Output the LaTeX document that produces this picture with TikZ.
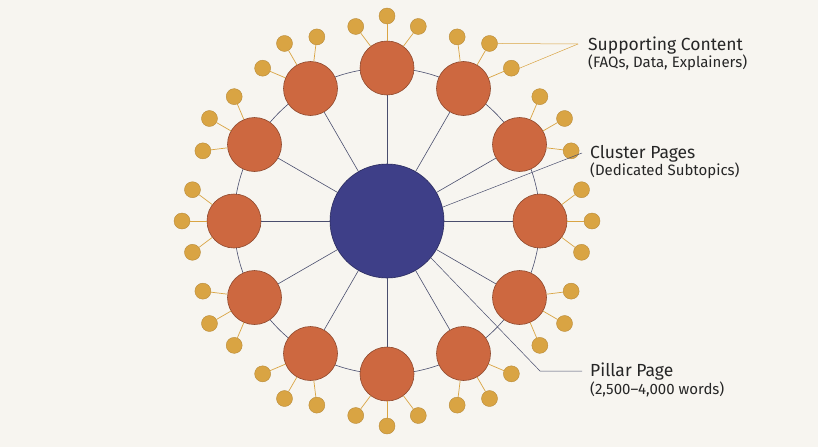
\documentclass[tikz,border=0pt]{standalone}
\usepackage{fontspec}
\setmainfont{Fira Sans}
\usetikzlibrary{calc}
\definecolor{bgcol}{HTML}{F7F5F0}
\definecolor{pillarcol}{HTML}{3E3F88}
\definecolor{clustercol}{HTML}{CD6840}
\definecolor{supportcol}{HTML}{D9A443}
\definecolor{linkcol}{HTML}{4A4E6E}
\tikzset{
  pillar/.style={circle, minimum size=114pt, inner sep=0pt, fill=pillarcol, draw=pillarcol!70!black, line width=0.6pt},
  cluster/.style={circle, minimum size=54pt, inner sep=0pt, fill=clustercol, draw=clustercol!70!black, line width=0.6pt},
  support/.style={circle, minimum size=16pt, inner sep=0pt, fill=supportcol, draw=supportcol!85!black, line width=0.4pt},
  spoke/.style={draw=linkcol, line width=0.6pt},
  twig/.style={draw=supportcol, line width=0.7pt},
  label/.style={anchor=west, inner sep=0pt, align=left, text=black!85}
}
\begin{document}
\begin{tikzpicture}[x=1pt, y=-1pt]
\useasboundingbox[fill=bgcol] (0,0) rectangle (818,447);

% ring and pillar page
\draw [spoke] (387,221) circle (153);
\node (P) [pillar] at (387,221) {};

% cluster pages with supporting content
\foreach \a in {0,30,...,330} {
  \node (C\a) [cluster] at ($(387,221)+(\a:153 and -153)$) {};
  \draw [spoke] (P) -- (C\a);
  \foreach \s in {-37,0,37} {
    \pgfmathsetmacro{\b}{\a+\s}
    \node (S\a\s) [support] at ($(C\a)+(\b:52 and -52)$) {};
    \draw [twig] (C\a) -- (S\a\s);
  }
}

% labels
\node (Lsup) [label] at (588,54) {{\fontsize{17.5}{20}\selectfont Supporting Content}\\[0pt]{\fontsize{15}{17}\selectfont (FAQs, Data, Explainers)}};
\node (Lclu) [label] at (590,162) {{\fontsize{17.5}{20}\selectfont Cluster Pages}\\[0pt]{\fontsize{15}{17}\selectfont (Dedicated Subtopics)}};
\node (Lpil) [label] at (590,380) {{\fontsize{17.5}{20}\selectfont Pillar Page}\\[0pt]{\fontsize{15}{17}\selectfont (2,500--4,000 words)}};

\coordinate (k1) at (578,44);
\draw [twig, line width=0.5pt] (k1) -- (S60-37.east);
\draw [twig, line width=0.5pt] (k1) -- (S600.east);
\draw [spoke, line width=0.5pt] (Lclu.west) ++(-8,-9) -- (P.14);
\coordinate (k2) at (540,371);
\draw [spoke, line width=0.5pt] (Lpil.west) ++(-8,-9) -- (k2) -- (P.-40);
\end{tikzpicture}
\end{document}
